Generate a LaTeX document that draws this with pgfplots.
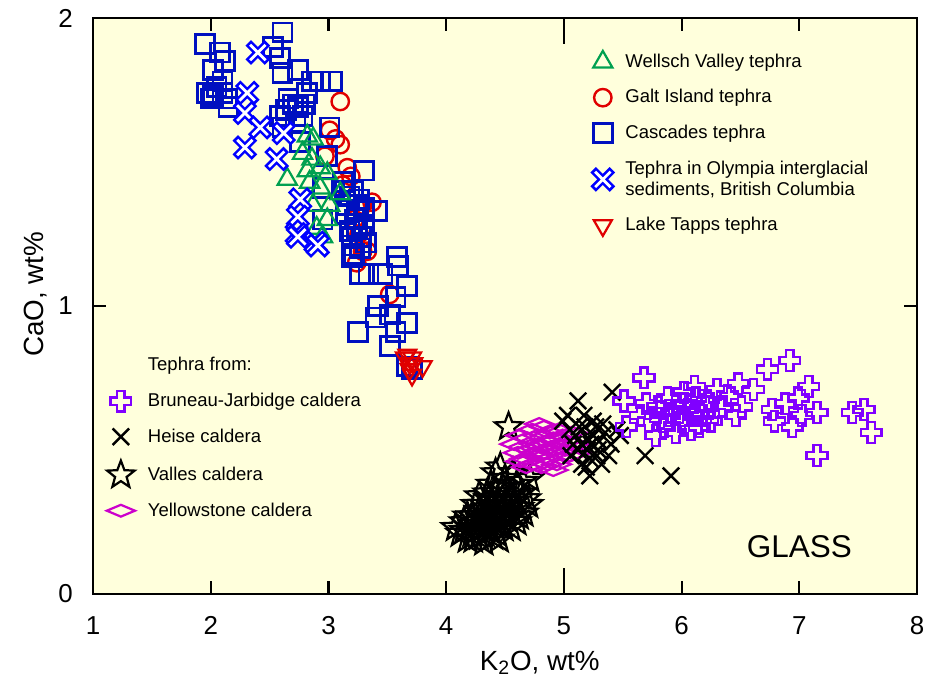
\documentclass[border=0pt]{standalone}
\usepackage{fontspec}
\setmainfont{Liberation Sans}
\usepackage{pgfplots}
\pgfplotsset{compat=1.18}

\definecolor{bgyel}{HTML}{FFFFDC}
\definecolor{wgreen}{HTML}{00A050}
\definecolor{gred}{HTML}{E00000}
\definecolor{sqblue}{HTML}{0010C0}
\definecolor{olyblue}{HTML}{0000FF}
\definecolor{bjpurple}{HTML}{8000FF}
\definecolor{ymag}{HTML}{CC00CC}

% thick blue X with a light core (Olympia tephra)
\pgfdeclareplotmark{olyx}{%
  \pgfsetlinewidth{4.2pt}\pgfsetstrokecolor{olyblue}%
  \pgfpathmoveto{\pgfqpoint{-\pgfplotmarksize}{-\pgfplotmarksize}}%
  \pgfpathlineto{\pgfqpoint{\pgfplotmarksize}{\pgfplotmarksize}}%
  \pgfpathmoveto{\pgfqpoint{-\pgfplotmarksize}{\pgfplotmarksize}}%
  \pgfpathlineto{\pgfqpoint{\pgfplotmarksize}{-\pgfplotmarksize}}%
  \pgfusepathqstroke
  \pgfsetlinewidth{1.5pt}\pgfsetstrokecolor{white}%
  \pgfpathmoveto{\pgfqpoint{-0.8\pgfplotmarksize}{-0.8\pgfplotmarksize}}%
  \pgfpathlineto{\pgfqpoint{0.8\pgfplotmarksize}{0.8\pgfplotmarksize}}%
  \pgfpathmoveto{\pgfqpoint{-0.8\pgfplotmarksize}{0.8\pgfplotmarksize}}%
  \pgfpathlineto{\pgfqpoint{0.8\pgfplotmarksize}{-0.8\pgfplotmarksize}}%
  \pgfusepathqstroke}

% outlined plus (Bruneau-Jarbidge)
\pgfdeclareplotmark{pluso}{%
  \pgfpathmoveto{\pgfqpoint{-0.35\pgfplotmarksize}{\pgfplotmarksize}}%
  \pgfpathlineto{\pgfqpoint{0.35\pgfplotmarksize}{\pgfplotmarksize}}%
  \pgfpathlineto{\pgfqpoint{0.35\pgfplotmarksize}{0.35\pgfplotmarksize}}%
  \pgfpathlineto{\pgfqpoint{\pgfplotmarksize}{0.35\pgfplotmarksize}}%
  \pgfpathlineto{\pgfqpoint{\pgfplotmarksize}{-0.35\pgfplotmarksize}}%
  \pgfpathlineto{\pgfqpoint{0.35\pgfplotmarksize}{-0.35\pgfplotmarksize}}%
  \pgfpathlineto{\pgfqpoint{0.35\pgfplotmarksize}{-\pgfplotmarksize}}%
  \pgfpathlineto{\pgfqpoint{-0.35\pgfplotmarksize}{-\pgfplotmarksize}}%
  \pgfpathlineto{\pgfqpoint{-0.35\pgfplotmarksize}{-0.35\pgfplotmarksize}}%
  \pgfpathlineto{\pgfqpoint{-\pgfplotmarksize}{-0.35\pgfplotmarksize}}%
  \pgfpathlineto{\pgfqpoint{-\pgfplotmarksize}{0.35\pgfplotmarksize}}%
  \pgfpathlineto{\pgfqpoint{-0.35\pgfplotmarksize}{0.35\pgfplotmarksize}}%
  \pgfpathclose\pgfusepathqstroke}

% outlined five-point star (Valles)
\pgfdeclareplotmark{staro}{%
  \pgfpathmoveto{\pgfqpoint{0pt}{\pgfplotmarksize}}%
  \pgfpathlineto{\pgfqpoint{-0.247\pgfplotmarksize}{0.340\pgfplotmarksize}}%
  \pgfpathlineto{\pgfqpoint{-0.951\pgfplotmarksize}{0.309\pgfplotmarksize}}%
  \pgfpathlineto{\pgfqpoint{-0.399\pgfplotmarksize}{-0.130\pgfplotmarksize}}%
  \pgfpathlineto{\pgfqpoint{-0.588\pgfplotmarksize}{-0.809\pgfplotmarksize}}%
  \pgfpathlineto{\pgfqpoint{0pt}{-0.42\pgfplotmarksize}}%
  \pgfpathlineto{\pgfqpoint{0.588\pgfplotmarksize}{-0.809\pgfplotmarksize}}%
  \pgfpathlineto{\pgfqpoint{0.399\pgfplotmarksize}{-0.130\pgfplotmarksize}}%
  \pgfpathlineto{\pgfqpoint{0.951\pgfplotmarksize}{0.309\pgfplotmarksize}}%
  \pgfpathlineto{\pgfqpoint{0.247\pgfplotmarksize}{0.340\pgfplotmarksize}}%
  \pgfpathclose\pgfusepathqstroke}

% wide flat diamond (Yellowstone)
\pgfdeclareplotmark{wdiam}{%
  \pgfpathmoveto{\pgfqpoint{\pgfplotmarksize}{0pt}}%
  \pgfpathlineto{\pgfqpoint{0pt}{0.42\pgfplotmarksize}}%
  \pgfpathlineto{\pgfqpoint{-\pgfplotmarksize}{0pt}}%
  \pgfpathlineto{\pgfqpoint{0pt}{-0.42\pgfplotmarksize}}%
  \pgfpathclose\pgfusepathqstroke}

\pgfplotsset{
  wellsch/.style={only marks, mark=triangle, mark size=6pt, color=wgreen, line width=1.2pt},
  galt/.style={only marks, mark=o, mark size=4.7pt, color=gred, line width=1.3pt},
  casc/.style={only marks, mark=square, mark size=5.1pt, color=sqblue, line width=1.5pt},
  olym/.style={only marks, mark=olyx, mark size=5.2pt},
  tapps/.style={only marks, mark=triangle, mark size=5.6pt, color=gred, line width=1.2pt, mark options={rotate=180}},
  bruneau/.style={only marks, mark=pluso, mark size=5.6pt, color=bjpurple, line width=1.3pt},
  heise/.style={only marks, mark=x, mark size=6.3pt, color=black, line width=1.3pt},
  valles/.style={only marks, mark=staro, mark size=7.8pt, color=black, line width=1.2pt},
  yellow/.style={only marks, mark=wdiam, mark size=7.6pt, color=ymag, line width=1.2pt},
  frame/.style={
    scale only axis, width=445pt, height=311pt,
    xmin=1, xmax=8, ymin=0, ymax=2,
  },
}

\begin{document}
\begin{tikzpicture}
\begin{axis}[
  frame,
  clip=false,
  axis background/.style={fill=bgyel},
  axis line style={line width=1.2pt},
  xtick={1,2,...,8}, ytick={0,1,2},
  tick align=inside,
  major tick length=7pt,
  tick style={line width=1.2pt, black},
  extra x ticks={5}, extra x tick labels={},
  extra x tick style={major tick length=14pt},
  /pgf/number format/assume math mode=true,
  tick label style={font=\fontsize{14}{14}\selectfont, inner sep=1pt},
  xticklabel style={yshift=-11.2pt},
  yticklabel style={xshift=-9.7pt},
  xlabel={K\textsubscript{2}O, wt\%},
  ylabel={CaO, wt\%},
  label style={font=\fontsize{15}{15}\selectfont},
  x label style={at={(axis description cs:0.542,-0.12)}, anchor=center},
  y label style={at={(axis description cs:-0.07,0.52)}, anchor=center},
  legend style={draw=none, fill=none, inner sep=0pt, outer sep=0pt,
    at={(rel axis cs:0.607,0.944)}, anchor=north west,
    font=\fontsize{10}{11.3}\selectfont, row sep=6.5pt, column sep=5pt,
    cells={align=left}},
  legend cell align=left,
]
\addlegendimage{wellsch}\addlegendentry{Wellsch Valley tephra}
\addlegendimage{galt}\addlegendentry{Galt Island tephra}
\addlegendimage{casc}\addlegendentry{Cascades tephra}
\addlegendimage{olym}\addlegendentry{Tephra in Olympia interglacial\\sediments, British Columbia}
\addlegendimage{tapps}\addlegendentry{Lake Tapps tephra}

% Galt Island tephra
\addplot[galt, forget plot] coordinates {
(3.10,1.71) (3.01,1.61) (3.10,1.56) (3.06,1.58) (2.97,1.52) (3.16,1.48)
(3.19,1.45) (3.37,1.36) (3.29,1.35) (3.33,1.19) (3.24,1.15) (3.52,1.04)
(3.29,1.19) (3.22,1.30) (3.26,1.25) (3.12,1.42)
};

% Cascades tephra
\addplot[casc, forget plot] coordinates {
(1.95,1.91) (2.08,1.88) (2.12,1.85) (2.02,1.82) (1.97,1.74) (2.10,1.74)
(2.14,1.72) (2.02,1.73) (2.10,1.78) (2.05,1.76) (2.00,1.72) (2.15,1.69)
(2.61,1.95) (2.53,1.90) (2.59,1.86) (2.61,1.81) (2.74,1.82) (2.86,1.78)
(2.93,1.78) (3.03,1.78) (2.59,1.66) (2.70,1.70) (2.82,1.74) (2.61,1.62)
(2.74,1.69) (2.78,1.66) (2.66,1.72) (2.72,1.64) (2.80,1.70) (2.64,1.68)
(3.01,1.62) (2.76,1.57) (2.99,1.52) (3.30,1.47) (2.95,1.41) (3.12,1.43)
(3.21,1.40) (3.41,1.33) (3.16,1.35) (2.95,1.30) (3.24,1.27) (3.27,1.20)
(3.58,1.17) (3.20,1.21) (3.20,1.17) (3.34,1.11) (3.46,1.11) (3.59,1.14)
(3.67,1.07) (3.42,1.00) (3.57,1.03) (3.40,0.96) (3.52,0.97) (3.67,0.94)
(3.25,0.91) (3.57,0.91) (3.52,0.86) (3.67,0.79) (3.71,0.78) (3.27,1.11)
(3.18,1.38) (3.25,1.35) (3.22,1.30) (3.30,1.28) (3.15,1.32) (3.28,1.24)
(3.18,1.26) (3.32,1.22) (3.24,1.33) (3.14,1.40) (3.26,1.37) (3.20,1.24)
(3.30,1.34) (3.22,1.18)
};

% Wellsch Valley tephra
\addplot[wellsch, forget plot] coordinates {
(2.65,1.44) (2.82,1.59) (2.87,1.58) (2.86,1.51) (2.93,1.48) (2.82,1.47)
(2.99,1.46) (2.93,1.41) (2.84,1.43) (2.99,1.30) (2.95,1.24) (2.87,1.35)
(3.01,1.35) (2.90,1.27) (3.10,1.39) (2.78,1.53)
};

% Tephra in Olympia interglacial sediments
\addplot[olym, forget plot] coordinates {
(2.40,1.88) (2.31,1.74) (2.29,1.67) (2.42,1.62) (2.29,1.55) (2.56,1.51)
(2.76,1.37) (2.74,1.31) (2.73,1.25) (2.89,1.22) (2.74,1.24) (2.91,1.21)
(2.62,1.60)
};

% Lake Tapps tephra
\addplot[tapps, forget plot] coordinates {
(3.67,0.83) (3.71,0.82) (3.69,0.80) (3.72,0.80) (3.69,0.78) (3.80,0.79)
(3.71,0.76) (3.65,0.82)
};

% Valles caldera
\addplot[valles, forget plot] coordinates {
(4.08,0.23) (4.12,0.21) (4.15,0.25) (4.18,0.19) (4.20,0.23) (4.22,0.27)
(4.23,0.19) (4.25,0.22) (4.26,0.25) (4.28,0.29) (4.28,0.20) (4.30,0.23)
(4.31,0.26) (4.32,0.31) (4.33,0.21) (4.34,0.24) (4.35,0.28) (4.36,0.33)
(4.37,0.22) (4.38,0.26) (4.39,0.30) (4.40,0.24) (4.41,0.28) (4.42,0.35)
(4.43,0.21) (4.44,0.27) (4.45,0.31) (4.46,0.25) (4.47,0.29) (4.48,0.37)
(4.49,0.23) (4.50,0.27) (4.51,0.32) (4.52,0.26) (4.53,0.30) (4.55,0.34)
(4.56,0.28) (4.58,0.32) (4.60,0.25) (4.62,0.30) (4.64,0.35) (4.66,0.28)
(4.68,0.33) (4.71,0.40) (4.46,0.44) (4.53,0.58) (4.38,0.38) (4.25,0.31)
(4.18,0.27) (4.32,0.18) (4.40,0.20) (4.55,0.23) (4.60,0.38) (4.50,0.40)
(4.35,0.35) (4.42,0.42) (4.28,0.34) (4.15,0.22) (4.22,0.21) (4.45,0.19)
(4.62,0.27) (4.70,0.31) (4.36,0.24) (4.44,0.24) (4.30,0.28) (4.48,0.33)
(4.57,0.42) (4.65,0.39) (4.39,0.32) (4.27,0.24)
};

% Yellowstone caldera
\addplot[yellow, forget plot] coordinates {
(4.58,0.52) (4.61,0.49) (4.63,0.55) (4.65,0.51) (4.67,0.47) (4.69,0.54)
(4.71,0.50) (4.73,0.57) (4.73,0.45) (4.75,0.52) (4.77,0.48) (4.78,0.55)
(4.80,0.51) (4.81,0.44) (4.83,0.58) (4.83,0.49) (4.85,0.53) (4.87,0.47)
(4.88,0.56) (4.89,0.51) (4.91,0.43) (4.91,0.54) (4.93,0.49) (4.95,0.57)
(4.96,0.52) (4.98,0.47) (4.99,0.55) (5.01,0.50) (5.03,0.53) (5.05,0.48)
(5.07,0.56) (5.09,0.52) (4.68,0.44) (4.79,0.59) (4.63,0.46) (4.86,0.45)
(4.94,0.45) (5.11,0.49) (4.75,0.49) (4.90,0.50)
};

% Heise caldera
\addplot[heise, forget plot] coordinates {
(5.12,0.67) (5.41,0.70) (4.99,0.60) (5.69,0.48) (5.22,0.41) (5.48,0.55)
(5.91,0.41) (5.05,0.57) (5.10,0.55) (5.15,0.52) (5.20,0.50) (5.25,0.55)
(5.30,0.53) (5.18,0.58) (5.22,0.47) (5.28,0.48) (5.12,0.50) (5.35,0.56)
(5.25,0.60) (5.32,0.45) (5.15,0.45) (5.20,0.54) (5.08,0.52) (5.40,0.52)
(5.03,0.62) (5.27,0.58) (5.45,0.57) (5.17,0.62) (5.33,0.59) (5.23,0.52)
(5.13,0.58) (5.29,0.50) (5.06,0.48) (5.38,0.48) (5.19,0.44)
};

% Bruneau-Jarbidge caldera
\addplot[bruneau, forget plot] coordinates {
(5.68,0.75) (5.51,0.67) (5.53,0.58) (6.73,0.78) (6.92,0.81) (6.11,0.72)
(6.48,0.73) (6.61,0.71) (7.08,0.72) (6.99,0.68) (7.15,0.48) (7.61,0.56)
(7.45,0.63) (7.55,0.64) (7.15,0.63) (6.77,0.64) (6.79,0.60) (6.94,0.58)
(6.46,0.62) (6.51,0.65) (6.39,0.69) (5.65,0.62) (5.72,0.60) (5.80,0.65)
(5.85,0.58) (5.90,0.62) (5.95,0.66) (6.00,0.60) (6.05,0.64) (6.10,0.62)
(6.15,0.58) (6.20,0.65) (6.25,0.60) (5.78,0.55) (5.88,0.68) (6.02,0.70)
(6.12,0.68) (6.18,0.62) (5.70,0.66) (6.08,0.57) (5.95,0.56) (6.28,0.63)
(5.82,0.61) (6.22,0.67) (5.98,0.63) (6.35,0.65) (6.30,0.71) (6.02,0.66)
(6.88,0.66) (7.02,0.62)
};

\node[font=\fontsize{17}{17}\selectfont] at (axis cs:7.0,0.165) {GLASS};
\path (rel axis cs:-0.1129,-0.1632) rectangle (rel axis cs:1.0121,1.03125);
\end{axis}

% second, hidden axis carrying the caldera legend
\begin{axis}[
  frame, hide axis,
  legend style={draw=none, fill=none, inner sep=0pt, outer sep=0pt,
    at={(rel axis cs:0.0146,0.417)}, anchor=north west,
    font=\fontsize{10}{11.3}\selectfont, row sep=6.5pt, column sep=5pt},
  legend cell align=left,
]
\addlegendimage{empty legend}\addlegendentry{Tephra from:}
\addlegendimage{bruneau}\addlegendentry{Bruneau-Jarbidge caldera}
\addlegendimage{heise}\addlegendentry{Heise caldera}
\addlegendimage{valles}\addlegendentry{Valles caldera}
\addlegendimage{yellow}\addlegendentry{Yellowstone caldera}
\end{axis}
\end{tikzpicture}
\end{document}
